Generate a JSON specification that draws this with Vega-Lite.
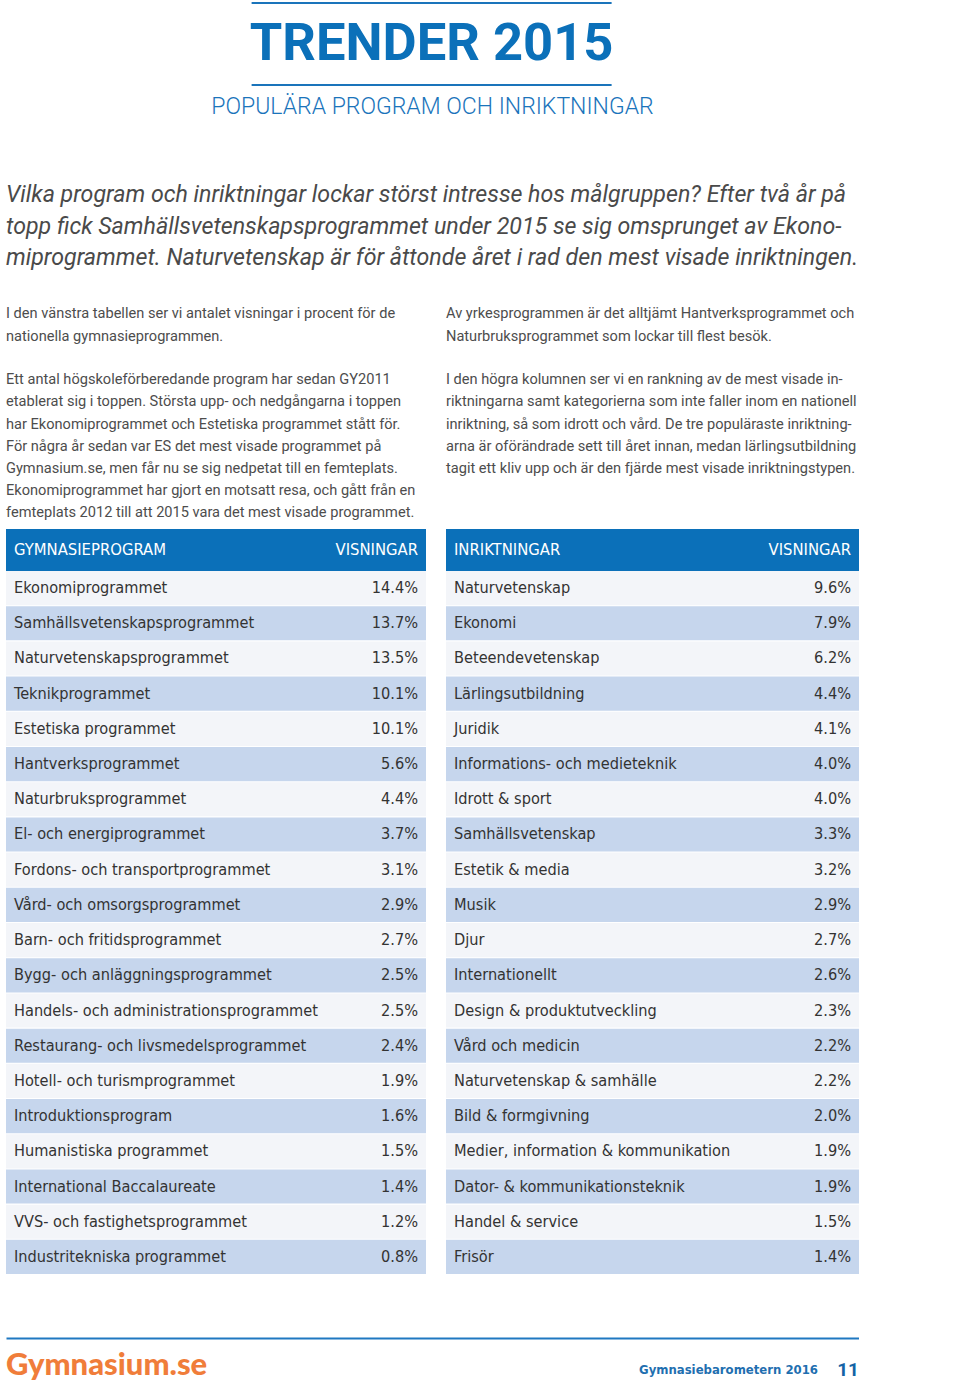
{
  "$schema": "https://vega.github.io/schema/vega-lite/v6.json",
  "background": "white",
  "padding": {"left": 6, "top": 2, "right": 0, "bottom": 0},
  "config": {
    "view": {"stroke": null},
    "font": "Roboto",
    "title": {"fontWeight": "normal", "frame": "group"}
  },
  "datasets": {
    "program": [
      {"rank": 1, "name": "Ekonomiprogrammet", "share": 0.144},
      {"rank": 2, "name": "Samhällsvetenskapsprogrammet", "share": 0.137},
      {"rank": 3, "name": "Naturvetenskapsprogrammet", "share": 0.135},
      {"rank": 4, "name": "Teknikprogrammet", "share": 0.101},
      {"rank": 5, "name": "Estetiska programmet", "share": 0.101},
      {"rank": 6, "name": "Hantverksprogrammet", "share": 0.056},
      {"rank": 7, "name": "Naturbruksprogrammet", "share": 0.044},
      {"rank": 8, "name": "El- och energiprogrammet", "share": 0.037},
      {"rank": 9, "name": "Fordons- och transportprogrammet", "share": 0.031},
      {"rank": 10, "name": "Vård- och omsorgsprogrammet", "share": 0.029},
      {"rank": 11, "name": "Barn- och fritidsprogrammet", "share": 0.027},
      {"rank": 12, "name": "Bygg- och anläggningsprogrammet", "share": 0.025},
      {"rank": 13, "name": "Handels- och administrationsprogrammet", "share": 0.025},
      {"rank": 14, "name": "Restaurang- och livsmedelsprogrammet", "share": 0.024},
      {"rank": 15, "name": "Hotell- och turismprogrammet", "share": 0.019},
      {"rank": 16, "name": "Introduktionsprogram", "share": 0.016},
      {"rank": 17, "name": "Humanistiska programmet", "share": 0.015},
      {"rank": 18, "name": "International Baccalaureate", "share": 0.014},
      {"rank": 19, "name": "VVS- och fastighetsprogrammet", "share": 0.012},
      {"rank": 20, "name": "Industritekniska programmet", "share": 0.008}
    ],
    "inriktning": [
      {"rank": 1, "name": "Naturvetenskap", "share": 0.096},
      {"rank": 2, "name": "Ekonomi", "share": 0.079},
      {"rank": 3, "name": "Beteendevetenskap", "share": 0.062},
      {"rank": 4, "name": "Lärlingsutbildning", "share": 0.044},
      {"rank": 5, "name": "Juridik", "share": 0.041},
      {"rank": 6, "name": "Informations- och medieteknik", "share": 0.040},
      {"rank": 7, "name": "Idrott & sport", "share": 0.040},
      {"rank": 8, "name": "Samhällsvetenskap", "share": 0.033},
      {"rank": 9, "name": "Estetik & media", "share": 0.032},
      {"rank": 10, "name": "Musik", "share": 0.029},
      {"rank": 11, "name": "Djur", "share": 0.027},
      {"rank": 12, "name": "Internationellt", "share": 0.026},
      {"rank": 13, "name": "Design & produktutveckling", "share": 0.023},
      {"rank": 14, "name": "Vård och medicin", "share": 0.022},
      {"rank": 15, "name": "Naturvetenskap & samhälle", "share": 0.022},
      {"rank": 16, "name": "Bild & formgivning", "share": 0.020},
      {"rank": 17, "name": "Medier, information & kommunikation", "share": 0.019},
      {"rank": 18, "name": "Dator- & kommunikationsteknik", "share": 0.019},
      {"rank": 19, "name": "Handel & service", "share": 0.015},
      {"rank": 20, "name": "Frisör", "share": 0.014}
    ]
  },
  "center": true,
  "spacing": 64,
  "vconcat": [
    {
      "center": true,
      "spacing": 9,
      "vconcat": [
        {
          "width": 360,
          "height": 82,
          "data": {"values": [{"edge": "top"}, {"edge": "bottom"}]},
          "layer": [
            {
              "mark": {"type": "rule", "color": "#1a74bb", "strokeWidth": 2},
              "encoding": {
                "y": {"field": "edge", "type": "nominal", "scale": {"type": "point", "domain": ["top", "bottom"], "padding": 0}, "axis": null}
              }
            },
            {
              "data": {"values": [{"title": "TRENDER 2015"}]},
              "mark": {"type": "text", "font": "Roboto", "fontWeight": "bold", "fontSize": 52.5, "color": "#0b70b9", "baseline": "middle"},
              "encoding": {"text": {"field": "title", "type": "nominal"}}
            }
          ]
        },
        {
          "width": 450,
          "height": 24,
          "data": {"values": [{"subtitle": "POPULÄRA PROGRAM OCH INRIKTNINGAR"}]},
          "mark": {"type": "text", "font": "Roboto", "fontWeight": 300, "fontSize": 23, "color": "#1a74bb", "baseline": "middle"},
          "encoding": {"text": {"field": "subtitle", "type": "nominal"}}
        }
      ]
    },
    {
      "title": {
        "text": [
          "Vilka program och inriktningar lockar störst intresse hos målgruppen? Efter två år på",
          "topp fick Samhällsvetenskapsprogrammet under 2015 se sig omsprunget av Ekono-",
          "miprogrammet. Naturvetenskap är för åttonde året i rad den mest visade inriktningen."
        ],
        "anchor": "start",
        "font": "Roboto",
        "fontStyle": "italic",
        "fontSize": 23.2,
        "color": "#4a4a4a",
        "lineHeight": 31.5,
        "offset": 36
      },
      "spacing": 20,
      "hconcat": [
        {
          "title": {
            "text": [
              "I den vänstra tabellen ser vi antalet visningar i procent för de",
              "nationella gymnasieprogrammen."
            ],
            "subtitle": [
              "Ett antal högskoleförberedande program har sedan GY2011",
              "etablerat sig i toppen. Största upp- och nedgångarna i toppen",
              "har Ekonomiprogrammet och Estetiska programmet stått för.",
              "För några år sedan var ES det mest visade programmet på",
              "Gymnasium.se, men får nu se sig nedpetat till en femteplats.",
              "Ekonomiprogrammet har gjort en motsatt resa, och gått från en",
              "femteplats 2012 till att 2015 vara det mest visade programmet."
            ],
            "anchor": "start",
            "font": "Roboto",
            "fontSize": 14.6,
            "color": "#4d4d4d",
            "lineHeight": 22.2,
            "subtitleFont": "Roboto",
            "subtitleFontSize": 14.6,
            "subtitleColor": "#4d4d4d",
            "subtitleLineHeight": 22.2,
            "subtitlePadding": 29,
            "offset": 9
          },
          "spacing": 0,
          "vconcat": [
            {
              "width": 420,
              "height": 42,
              "view": {"fill": "#0b70b9", "stroke": null},
              "data": {"values": [{"c": "GYMNASIEPROGRAM", "v": "VISNINGAR"}]},
              "layer": [
                {
                  "mark": {"type": "text", "align": "left", "dx": 8, "baseline": "middle", "color": "white", "font": "DejaVu Sans Condensed, Roboto, sans-serif", "fontSize": 16.5},
                  "encoding": {
                    "x": {"datum": "label", "type": "nominal", "scale": {"type": "point", "domain": ["label", "value"], "padding": 0}, "axis": null},
                    "text": {"field": "c", "type": "nominal"}
                  }
                },
                {
                  "mark": {"type": "text", "align": "right", "dx": -8, "baseline": "middle", "color": "white", "font": "DejaVu Sans Condensed, Roboto, sans-serif", "fontSize": 16.5},
                  "encoding": {
                    "x": {"datum": "value", "type": "nominal", "scale": {"type": "point", "domain": ["label", "value"], "padding": 0}, "axis": null},
                    "text": {"field": "v", "type": "nominal"}
                  }
                }
              ]
            },
            {
              "width": 420,
              "height": 703,
              "data": {"name": "program"},
              "encoding": {
                "y": {"field": "name", "type": "nominal", "sort": null, "scale": {"paddingInner": 0.03, "paddingOuter": 0}, "axis": null}
              },
              "layer": [
                {
                  "mark": {"type": "rect"},
                  "encoding": {
                    "fill": {"condition": {"test": "datum.rank % 2 === 0", "value": "#c6d6ed"}, "value": "#f3f5f9"}
                  }
                },
                {
                  "mark": {"type": "text", "align": "left", "dx": 8, "baseline": "middle", "color": "#333333", "font": "DejaVu Sans Condensed, Roboto, sans-serif", "fontSize": 16.2},
                  "encoding": {
                    "x": {"datum": "label", "type": "nominal", "scale": {"type": "point", "domain": ["label", "value"], "padding": 0}, "axis": null},
                    "text": {"field": "name", "type": "nominal"}
                  }
                },
                {
                  "mark": {"type": "text", "align": "right", "dx": -8, "baseline": "middle", "color": "#333333", "font": "DejaVu Sans Condensed, Roboto, sans-serif", "fontSize": 16.2},
                  "encoding": {
                    "x": {"datum": "value", "type": "nominal", "scale": {"type": "point", "domain": ["label", "value"], "padding": 0}, "axis": null},
                    "text": {"field": "share", "type": "quantitative", "format": ".1%"}
                  }
                }
              ]
            }
          ]
        },
        {
          "title": {
            "text": [
              "Av yrkesprogrammen är det alltjämt Hantverksprogrammet och",
              "Naturbruksprogrammet som lockar till flest besök."
            ],
            "subtitle": [
              "I den högra kolumnen ser vi en rankning av de mest visade in-",
              "riktningarna samt kategorierna som inte faller inom en nationell",
              "inriktning, så som idrott och vård. De tre populäraste inriktning-",
              "arna är oförändrade sett till året innan, medan lärlingsutbildning",
              "tagit ett kliv upp och är den fjärde mest visade inriktningstypen."
            ],
            "anchor": "start",
            "font": "Roboto",
            "fontSize": 14.6,
            "color": "#4d4d4d",
            "lineHeight": 22.2,
            "subtitleFont": "Roboto",
            "subtitleFontSize": 14.6,
            "subtitleColor": "#4d4d4d",
            "subtitleLineHeight": 22.2,
            "subtitlePadding": 29,
            "offset": 53.4
          },
          "spacing": 0,
          "vconcat": [
            {
              "width": 413,
              "height": 42,
              "view": {"fill": "#0b70b9", "stroke": null},
              "data": {"values": [{"c": "INRIKTNINGAR", "v": "VISNINGAR"}]},
              "layer": [
                {
                  "mark": {"type": "text", "align": "left", "dx": 8, "baseline": "middle", "color": "white", "font": "DejaVu Sans Condensed, Roboto, sans-serif", "fontSize": 16.5},
                  "encoding": {
                    "x": {"datum": "label", "type": "nominal", "scale": {"type": "point", "domain": ["label", "value"], "padding": 0}, "axis": null},
                    "text": {"field": "c", "type": "nominal"}
                  }
                },
                {
                  "mark": {"type": "text", "align": "right", "dx": -8, "baseline": "middle", "color": "white", "font": "DejaVu Sans Condensed, Roboto, sans-serif", "fontSize": 16.5},
                  "encoding": {
                    "x": {"datum": "value", "type": "nominal", "scale": {"type": "point", "domain": ["label", "value"], "padding": 0}, "axis": null},
                    "text": {"field": "v", "type": "nominal"}
                  }
                }
              ]
            },
            {
              "width": 413,
              "height": 703,
              "data": {"name": "inriktning"},
              "encoding": {
                "y": {"field": "name", "type": "nominal", "sort": null, "scale": {"paddingInner": 0.03, "paddingOuter": 0}, "axis": null}
              },
              "layer": [
                {
                  "mark": {"type": "rect"},
                  "encoding": {
                    "fill": {"condition": {"test": "datum.rank % 2 === 0", "value": "#c6d6ed"}, "value": "#f3f5f9"}
                  }
                },
                {
                  "mark": {"type": "text", "align": "left", "dx": 8, "baseline": "middle", "color": "#333333", "font": "DejaVu Sans Condensed, Roboto, sans-serif", "fontSize": 16.2},
                  "encoding": {
                    "x": {"datum": "label", "type": "nominal", "scale": {"type": "point", "domain": ["label", "value"], "padding": 0}, "axis": null},
                    "text": {"field": "name", "type": "nominal"}
                  }
                },
                {
                  "mark": {"type": "text", "align": "right", "dx": -8, "baseline": "middle", "color": "#333333", "font": "DejaVu Sans Condensed, Roboto, sans-serif", "fontSize": 16.2},
                  "encoding": {
                    "x": {"datum": "value", "type": "nominal", "scale": {"type": "point", "domain": ["label", "value"], "padding": 0}, "axis": null},
                    "text": {"field": "share", "type": "quantitative", "format": ".1%"}
                  }
                }
              ]
            }
          ]
        }
      ]
    },
    {
      "width": 853,
      "height": 56,
      "data": {"values": [
        {"part": "logo", "text": "Gymnasium.se"},
        {"part": "pub", "text": "Gymnasiebarometern 2016"},
        {"part": "page", "text": "11"}
      ]},
      "layer": [
        {
          "transform": [{"filter": "datum.part === 'logo'"}],
          "mark": {"type": "text", "align": "left", "baseline": "middle", "color": "#f07d3a", "font": "Lato", "fontWeight": 900, "fontSize": 31},
          "encoding": {
            "x": {"datum": "start", "type": "nominal", "scale": {"type": "point", "domain": ["start", "end"], "padding": 0}, "axis": {"orient": "top", "labels": false, "ticks": false, "title": null, "domainColor": "#1f78c1", "domainWidth": 2}},
            "text": {"field": "text", "type": "nominal"}
          }
        },
        {
          "transform": [{"filter": "datum.part === 'pub'"}],
          "mark": {"type": "text", "align": "right", "dx": -41, "dy": 4, "baseline": "middle", "color": "#1f6fb0", "font": "DejaVu Sans Condensed, Roboto, sans-serif", "fontWeight": "bold", "fontSize": 13},
          "encoding": {
            "x": {"datum": "end", "type": "nominal", "scale": {"type": "point", "domain": ["start", "end"], "padding": 0}, "axis": {"orient": "top", "labels": false, "ticks": false, "title": null, "domainColor": "#1f78c1", "domainWidth": 2}},
            "text": {"field": "text", "type": "nominal"}
          }
        },
        {
          "transform": [{"filter": "datum.part === 'page'"}],
          "mark": {"type": "text", "align": "right", "dy": 4, "baseline": "middle", "color": "#1463a6", "font": "Roboto", "fontWeight": "bold", "fontSize": 19},
          "encoding": {
            "x": {"datum": "end", "type": "nominal", "scale": {"type": "point", "domain": ["start", "end"], "padding": 0}, "axis": {"orient": "top", "labels": false, "ticks": false, "title": null, "domainColor": "#1f78c1", "domainWidth": 2}},
            "text": {"field": "text", "type": "nominal"}
          }
        }
      ]
    }
  ]
}
